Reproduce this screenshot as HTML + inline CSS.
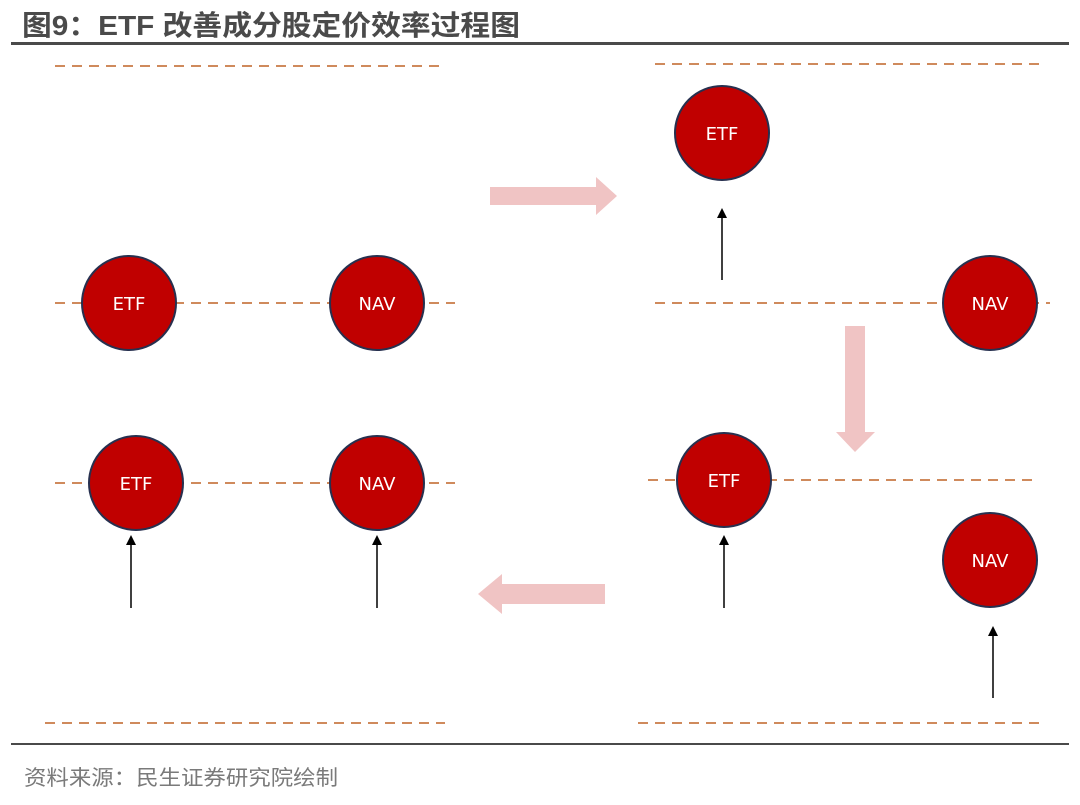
<!DOCTYPE html>
<html><head><meta charset="utf-8"><style>
html,body{margin:0;padding:0;background:#fff;}
</style></head><body>
<svg width="1080" height="805" xmlns="http://www.w3.org/2000/svg" style="display:block">
<text x="22" y="35" font-family="Liberation Sans, Noto Sans CJK SC, sans-serif" font-size="28" font-weight="bold" fill="#4a4a4a" textLength="498" lengthAdjust="spacingAndGlyphs">图9：ETF 改善成分股定价效率过程图</text>
<rect x="11" y="42" width="1058" height="3" fill="#4a4a4a"/>
<rect x="11" y="743" width="1058" height="2" fill="#4a4a4a"/>
<text x="24" y="785" font-family="Liberation Sans, Noto Sans CJK SC, sans-serif" font-size="21" fill="#7a7a7a" textLength="314" lengthAdjust="spacingAndGlyphs">资料来源：民生证券研究院绘制</text>
<g stroke="#cf8a5c" stroke-width="2" stroke-dasharray="10,7">
<line x1="55" y1="66" x2="440" y2="66"/>
<line x1="55" y1="303" x2="455" y2="303"/>
<line x1="55" y1="483" x2="455" y2="483"/>
<line x1="45" y1="723" x2="445" y2="723"/>
<line x1="655" y1="64" x2="1040" y2="64"/>
<line x1="655" y1="303" x2="1050" y2="303"/>
<line x1="648" y1="480" x2="1035" y2="480"/>
<line x1="638" y1="723" x2="1040" y2="723"/>
</g>
<g fill="#f0c4c4">
<polygon points="490,187 596,187 596,177 617,196 596,215 596,205 490,205"/>
<polygon points="845,326 865,326 865,432 875,432 855,452 836,432 845,432"/>
<polygon points="605,584 502,584 502,574 478,594 502,614 502,604 605,604"/>
</g>
<g stroke="#000" stroke-width="1.5">
<line x1="131" y1="608" x2="131" y2="542"/>
<line x1="377" y1="608" x2="377" y2="542"/>
<line x1="722" y1="280" x2="722" y2="215"/>
<line x1="724" y1="608" x2="724" y2="542"/>
<line x1="993" y1="698" x2="993" y2="633"/>
</g>
<g fill="#000">
<polygon points="131,535 126,545 136,545"/>
<polygon points="377,535 372,545 382,545"/>
<polygon points="722,208 717,218 727,218"/>
<polygon points="724,535 719,545 729,545"/>
<polygon points="993,626 988,636 998,636"/>
</g>
<g fill="#c00000" stroke="#27304f" stroke-width="2">
<circle cx="129" cy="303" r="47"/>
<circle cx="377" cy="303" r="47"/>
<circle cx="136" cy="483" r="47"/>
<circle cx="377" cy="483" r="47"/>
<circle cx="722" cy="133" r="47"/>
<circle cx="990" cy="303" r="47"/>
<circle cx="724" cy="480" r="47"/>
<circle cx="990" cy="560" r="47"/>
</g>
<g fill="#fff" font-family="DejaVu Sans, Liberation Sans, sans-serif" font-size="18" text-anchor="middle">
<text x="129" y="310">ETF</text>
<text x="377" y="310">NAV</text>
<text x="136" y="490">ETF</text>
<text x="377" y="490">NAV</text>
<text x="722" y="140">ETF</text>
<text x="990" y="310">NAV</text>
<text x="724" y="487">ETF</text>
<text x="990" y="567">NAV</text>
</g>
</svg>
</body></html>
